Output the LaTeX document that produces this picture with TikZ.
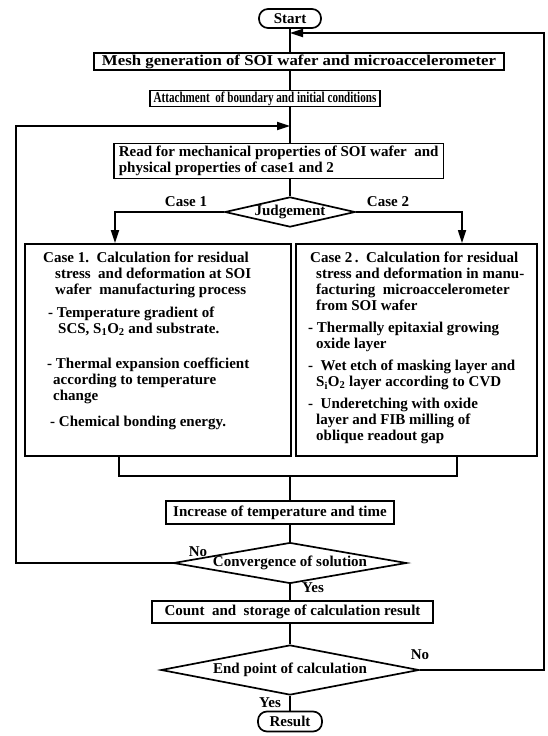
\documentclass[tikz,border=0pt]{standalone}
\usepackage{fontspec}
\usepackage{graphicx}
\setmainfont{Liberation Serif}
\usetikzlibrary{shapes.geometric,arrows.meta}
\begin{document}
\begin{tikzpicture}[x=1pt,y=-1pt,
  every node/.style={font=\fontsize{15}{16}\selectfont\bfseries},
  box/.style={draw, rectangle, inner sep=0pt, line width=1.7pt},
  term/.style={draw, rectangle, rounded corners=9pt, inner sep=0pt, line width=1.7pt},
  dec/.style={draw, diamond, inner sep=0pt, line width=1.7pt},
  lbl/.style={inner sep=0pt},
  link/.style={line width=1.7pt},
  arr/.style={line width=1.7pt, -{Triangle[length=13pt,width=8pt]}}]
\fill[white] (0,0) rectangle (547,736);
\useasboundingbox (0,0) rectangle (547,736);

% nodes
\node[term, minimum width=62pt, minimum height=19pt] (start) at (290,18.5) {Start};
\node[box, minimum width=410pt, minimum height=17pt] (mesh) at (299,61.5) {\scalebox{1.12}[1]{Mesh generation of SOI wafer and microaccelerometer}};
\node[box, minimum width=230pt, minimum height=16pt] (att) at (265,98.5) {\scalebox{0.74}[1]{Attachment~ of boundary and initial conditions}};
\node[box, anchor=west, align=left, inner xsep=5pt, minimum height=35pt] (read) at (113,161) {Read for mechanical properties of SOI wafer~ and\\physical properties of case1 and 2};
\node[dec, aspect=4.33, minimum width=130pt, minimum height=30pt] (judg) at (290,212) {Judgement};
\node[lbl] (c1) at (186,202) {Case 1};
\node[lbl] (c2) at (388,202) {Case 2};

\node[box, minimum width=266pt, minimum height=212pt, anchor=north west] (case1) at (24,243) {};
\node[box, minimum width=241pt, minimum height=212pt, anchor=north west] (case2) at (295,243) {};

\node[lbl, anchor=north west, align=left] (t1) at (43,252) {Case 1.~~Calculation for residual\\
\hspace*{12pt}stress~~and deformation at SOI\\
\hspace*{12pt}wafer~~manufacturing process\\[7pt]
\hspace*{5pt}- Temperature gradient of\\
\hspace*{15pt}SCS, S\textsubscript{1}O\textsubscript{2} and substrate.\\[19pt]
\hspace*{4pt}- Thermal expansion coefficient\\
\hspace*{10pt}according to temperature\\
\hspace*{10pt}change\\[10pt]
\hspace*{7pt}- Chemical bonding energy.};

\node[lbl, anchor=north west, align=left] (t2) at (308,252) {\hspace*{2pt}Case 2\,.~~Calculation for residual\\
\hspace*{8pt}stress and deformation in manu-\\
\hspace*{8pt}facturing~ microaccelerometer\\
\hspace*{8pt}from SOI wafer\\[6pt]
- Thermally epitaxial growing\\
\hspace*{8pt}oxide layer\\[6pt]
-~ Wet etch of masking layer and\\
\hspace*{8pt}S\textsubscript{i}O\textsubscript{2} layer according to CVD\\[6pt]
-~ Underetching with oxide\\
\hspace*{8pt}layer and FIB milling of\\
\hspace*{8pt}oblique readout gap};

\node[box, minimum width=228pt, minimum height=23pt] (inc) at (280,512.5) {Increase of temperature and time};
\node[dec, aspect=5.7, minimum width=228pt, minimum height=40pt] (conv) at (290,563) {Convergence of solution};
\node[lbl] (no1) at (198,552) {No};
\node[lbl] (yes1) at (313,588) {Yes};
\node[box, minimum width=281pt, minimum height=22pt] (count) at (292.5,612) {Count~ and~ storage of calculation result};
\node[dec, aspect=5.16, minimum width=258pt, minimum height=50pt] (endp) at (290,670) {End point of calculation};
\node[lbl] (no2) at (420,655) {No};
\node[lbl] (yes2) at (270,703) {Yes};
\node[term, minimum width=64pt, minimum height=20pt] (res) at (290,721.5) {Result};

% coordinates
\coordinate (lin) at (290,126);
\coordinate (ll1) at (16,563);
\coordinate (ll2) at (16,126);
\coordinate (rin) at (290,33);
\coordinate (rl1) at (544,670);
\coordinate (rl2) at (544,33);
\coordinate (c1in) at (115,243);
\coordinate (c2in) at (462,243);
\coordinate (bl) at (119,455);
\coordinate (br) at (457,455);
\coordinate (bm) at (290,476);

% connectors
\draw[link] (start.south) -- (start.south |- mesh.north);
\draw[link] (start.south |- mesh.south) -- (start.south |- att.north);
\draw[link] (start.south |- att.south) -- (start.south |- read.north);
\draw[link] (start.south |- read.south) -- (judg.north);
\draw[arr] (judg.west) -| (c1in);
\draw[arr] (judg.east) -| (c2in);
\draw[link] (bl) |- (bm) -| (br);
\draw[link] (bm) -- (bm |- inc.north);
\draw[link] (bm |- inc.south) -- (conv.north);
\draw[link] (conv.south) -- (conv.south |- count.north);
\draw[link] (conv.south |- count.south) -- (endp.north);
\draw[link] (endp.south) -- (res.north);
\draw[arr] (conv.west) -- (ll1) -- (ll2) -- (lin);
\draw[arr] (endp.east) -- (rl1) -- (rl2) -- (rin);
\end{tikzpicture}
\end{document}
